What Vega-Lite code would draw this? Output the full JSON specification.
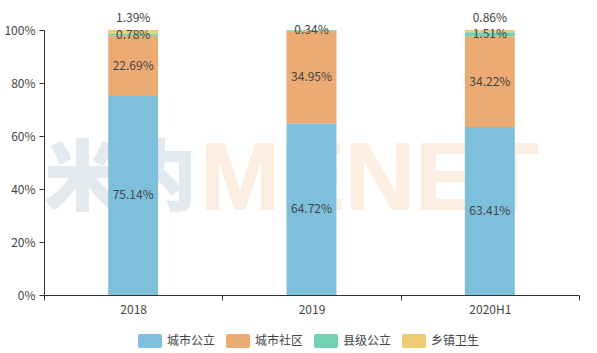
{
  "$schema": "https://vega.github.io/schema/vega-lite/v6.json",
  "width": 535,
  "height": 265,
  "autosize": {"type": "none"},
  "padding": {"left": 44, "top": 30, "right": 18, "bottom": 58},
  "background": "#ffffff",
  "config": {
    "view": {"stroke": null},
    "font": "Noto Sans CJK SC",
    "axis": {"labelFont": "Noto Sans CJK SC", "labelFontSize": 12, "labelColor": "#444", "domainColor": "#333", "tickColor": "#333", "grid": false, "title": null},
    "legend": {"labelFont": "Noto Sans CJK SC"}
  },
  "data": {
    "values": [
      {"year": "2018", "s": "城市公立", "v": 75.14, "o": 1},
      {"year": "2018", "s": "城市社区", "v": 22.69, "o": 2},
      {"year": "2018", "s": "县级公立", "v": 0.78, "o": 3},
      {"year": "2018", "s": "乡镇卫生", "v": 1.39, "o": 4},
      {"year": "2019", "s": "城市公立", "v": 64.72, "o": 1},
      {"year": "2019", "s": "城市社区", "v": 34.95, "o": 2},
      {"year": "2019", "s": "县级公立", "v": 0.34, "o": 3},
      {"year": "2020H1", "s": "城市公立", "v": 63.41, "o": 1},
      {"year": "2020H1", "s": "城市社区", "v": 34.22, "o": 2},
      {"year": "2020H1", "s": "县级公立", "v": 1.51, "o": 3},
      {"year": "2020H1", "s": "乡镇卫生", "v": 0.86, "o": 4}
    ]
  },
  "transform": [
    {"stack": "v", "groupby": ["year"], "sort": [{"field": "o", "order": "ascending"}], "as": ["v0", "v1"]},
    {"calculate": "(datum.v0 + datum.v1) / 2", "as": "mid"},
    {"calculate": "format(datum.v, '.2f') + '%'", "as": "lbl"}
  ],
  "encoding": {
    "x": {
      "field": "year", "type": "nominal", "sort": ["2018", "2019", "2020H1"],
      "scale": {"paddingInner": 0, "paddingOuter": 0},
      "axis": {"labelAngle": 0, "tickBand": "extent", "tickSize": 5, "labelPadding": 4, "domainWidth": 1}
    }
  },
  "layer": [
    {
      "mark": {"type": "text", "text": "米内", "align": "right", "baseline": "middle", "font": "Noto Sans CJK SC", "fontWeight": 900, "fontSize": 76, "fill": "#e2eaef", "dx": -8},
      "encoding": {
        "x": {"datum": "2018", "bandPosition": 0.9},
        "y": {"datum": 43, "type": "quantitative"}
      }
    },
    {
      "mark": {"type": "text", "text": "MENET", "align": "left", "baseline": "middle", "font": "Liberation Sans", "fontWeight": "bold", "fontSize": 97, "fill": "#fdeee2", "dx": -5},
      "encoding": {
        "x": {"datum": "2018", "bandPosition": 0.9},
        "y": {"datum": 43, "type": "quantitative"}
      }
    },
    {
      "mark": {"type": "bar", "width": {"band": 0.28}},
      "encoding": {
        "y": {
          "field": "v1", "type": "quantitative",
          "scale": {"domain": [0, 100], "nice": false},
          "axis": {"values": [0, 20, 40, 60, 80, 100], "labelExpr": "datum.value + '%'", "tickSize": 5, "labelPadding": 4}
        },
        "y2": {"field": "v0"},
        "color": {
          "field": "s", "type": "nominal",
          "scale": {"domain": ["城市公立", "城市社区", "县级公立", "乡镇卫生"], "range": ["#7ebfdb", "#ecab73", "#72d1b0", "#eecb73"]},
          "legend": {
            "orient": "none", "direction": "horizontal", "legendX": 94, "legendY": 299, "title": null,
            "symbolType": "M-0.83,-0.58 H0.83 A0.17,0.17 0 0 1 1,-0.41 V0.41 A0.17,0.17 0 0 1 0.83,0.58 H-0.83 A0.17,0.17 0 0 1 -1,0.41 V-0.41 A0.17,0.17 0 0 1 -0.83,-0.58 Z",
            "symbolSize": 576, "symbolStrokeWidth": 0, "symbolOpacity": 1,
            "labelFontSize": 12, "labelColor": "#444", "labelOffset": 5, "columnPadding": 10
          }
        }
      }
    },
    {
      "transform": [{"filter": "datum.s != '乡镇卫生'"}],
      "mark": {"type": "text", "baseline": "middle", "fontSize": 12, "color": "#444"},
      "encoding": {
        "y": {"field": "mid", "type": "quantitative"},
        "text": {"field": "lbl"}
      }
    },
    {
      "transform": [{"filter": "datum.s == '乡镇卫生'"}],
      "mark": {"type": "text", "baseline": "bottom", "fontSize": 12, "color": "#444", "dy": -5},
      "encoding": {
        "y": {"field": "v1", "type": "quantitative"},
        "text": {"field": "lbl"}
      }
    }
  ]
}
